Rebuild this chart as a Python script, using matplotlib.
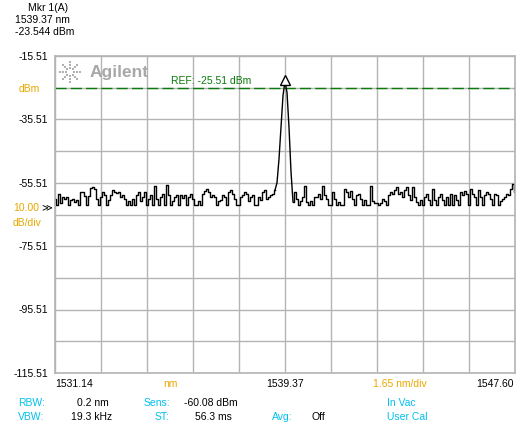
import numpy as np
import matplotlib
matplotlib.use('Agg')
import matplotlib.pyplot as plt

plt.rcParams['font.family'] = ['Liberation Sans', 'DejaVu Sans']

# trace, one value every ~2 px (dBm)
power = [
    -60.6, -62.5, -59.0, -62.0, -60.0, -60.5, -60.0, -62.5, -61.0, -60.5,
    -61.5, -60.8, -62.5, -58.3, -58.5, -59.8, -62.5, -59.8, -57.3, -56.9,
    -57.5, -60.5, -62.5, -60.0, -58.5, -59.3, -62.5, -61.0, -59.5, -57.8,
    -58.3, -58.8, -58.3, -60.0, -59.5, -60.6, -62.5, -61.3, -62.5, -60.6,
    -62.5, -59.5, -58.3, -61.2, -60.0, -58.5, -62.5, -60.6, -59.5, -62.5,
    -56.4, -60.6, -62.5, -60.0, -59.0, -62.5, -56.1, -59.5, -62.5, -61.3,
    -60.0, -59.5, -62.5, -59.3, -60.3, -59.5, -62.5, -60.0, -59.0, -60.6,
    -62.5, -62.5, -61.3, -62.5, -59.0, -58.0, -57.5, -58.5, -60.0, -59.5,
    -60.0, -62.5, -61.3, -60.8, -59.5, -60.0, -62.5, -58.5, -57.8, -59.0,
    -60.6, -62.5, -62.5, -60.0, -59.5, -58.5, -59.0, -61.3, -60.0, -59.3,
    -62.5, -62.5, -60.0, -61.0, -58.5, -57.8, -60.6, -60.0, -59.5, -59.0,
    -57.8, -55.5, -48.0, -38.0, -28.0, -23.5, -27.0, -38.0, -52.0, -61.5,
    -58.5, -60.6, -62.5, -61.3, -60.0, -56.4, -61.5, -62.5, -61.3, -62.5,
    -60.0, -60.0, -59.0, -60.6, -56.6, -59.5, -60.6, -62.5, -62.5, -58.5,
    -60.6, -62.5, -61.5, -62.5, -62.5, -57.5, -58.5, -60.0, -58.0, -60.6,
    -62.5, -59.5, -59.0, -60.5, -62.5, -61.0, -62.5, -62.5, -56.6, -61.2,
    -62.0, -61.8, -62.5, -62.0, -60.6, -61.3, -62.5, -59.3, -58.5, -59.0,
    -57.8, -56.8, -59.0, -58.5, -60.0, -57.8, -56.8, -59.3, -61.0, -56.9,
    -60.0, -61.5, -62.5, -61.0, -62.5, -60.0, -59.0, -61.0, -62.5, -57.6,
    -61.0, -62.5, -60.0, -59.0, -60.8, -62.5, -60.0, -62.5, -59.0, -62.5,
    -59.5, -61.0, -62.5, -58.5, -59.5, -58.0, -59.0, -62.5, -57.6, -59.0,
    -60.0, -62.5, -57.8, -60.0, -62.5, -59.5, -58.5, -59.0, -60.6, -62.5,
    -59.0, -59.5, -62.5, -61.3, -60.6, -60.0, -59.0, -59.5, -57.5, -56.0,
    -58.5,
]
start_nm = 1531.14
stop_nm = 1547.60
center_nm = 1539.37
ref_dbm = -25.51
top_dbm = -15.51
bottom_dbm = -115.51
mkr_nm = 1539.37
mkr_dbm = -23.544
y_labels = ['-15.51', '-35.51', '-55.51', '-75.51', '-95.51', '-115.51']

wl = np.linspace(start_nm, stop_nm, len(power))
noise = np.array(power)

W, H = 520, 427
fig = plt.figure(figsize=(W / 100, H / 100), dpi=100)
ax = fig.add_axes([55 / W, 1 - 374 / H, 460 / W, 317 / H])

grid_c = '#b4b4b4'
orange = '#e8a800'
cyan = '#00c0f0'
green = '#0a7a0a'

ax.set_xlim(start_nm, stop_nm)
ax.set_ylim(bottom_dbm, top_dbm)
ax.set_xticks(np.linspace(start_nm, stop_nm, 11))
ax.set_yticks(np.linspace(bottom_dbm, top_dbm, 11))
ax.tick_params(length=0, labelbottom=False, labelleft=False)
ax.grid(True, color=grid_c, lw=1)
for s in ax.spines.values():
    s.set_color(grid_c)
    s.set_linewidth(1.2)

ax.axhline(ref_dbm, color=green, lw=1, dashes=(8, 3))

# noise floor as steps, the peak itself as a plain line
a, b = 110, 119
ax.plot(wl[:a + 1], noise[:a + 1], color='black', lw=1, drawstyle='steps-mid')
ax.plot(wl[a:b + 1], noise[a:b + 1], color='black', lw=1)
ax.plot(wl[b:], noise[b:], color='black', lw=1, drawstyle='steps-mid')
ax.plot([mkr_nm], [mkr_dbm + 0.4], marker='^', ms=7, mfc='white', mec='black', mew=1)

ax.text(1535.3, ref_dbm + 0.8, 'REF: -25.51 dBm', color=green, fontsize=7.5, va='bottom')

# Agilent logo
lx, ly = 70 / W, 1 - 73 / H
for ang in np.linspace(0, 2 * np.pi, 8, endpoint=False):
    for r in (4, 7, 10):
        fig.patches.append(plt.Rectangle((lx + r * np.cos(ang) / W - 1 / W, ly + r * np.sin(ang) / H - 1 / H),
                                         2 / W, 2 / H, transform=fig.transFigure,
                                         color='#b0b0b0', lw=0))
fig.text(90 / W, 1 - 73 / H, 'Agilent', color='#a8a8a8', fontsize=12.5, fontweight='bold', va='center')

fs = 7.5
def t(x, y, s, c='black', ha='left'):
    fig.text(x / W, 1 - y / H, s, color=c, fontsize=fs, ha=ha, va='center')

# marker readout
t(28, 8, 'Mkr 1(A)')
t(15, 20, '1539.37 nm')
t(15, 32, '-23.544 dBm')

# y labels
for lab, yy in zip(y_labels, [57, 120, 184, 247, 310, 374]):
    t(48, yy, lab, ha='right')
t(40, 89, 'dBm', orange, 'right')
t(13, 208, '10.00', orange)
t(41, 207, '≫')
t(13, 223, 'dB/div', orange)

# x labels
t(55, 384, '1531.14')
t(170, 384, 'nm', orange, 'center')
t(285, 384, '1539.37', ha='center')
t(400, 384, '1.65 nm/div', orange, 'center')
t(514, 384, '1547.60', ha='right')

# settings
t(18, 403, 'RBW:', cyan)
t(77, 403, '0.2 nm')
t(144, 403, 'Sens:', cyan)
t(184, 403, '-60.08 dBm')
t(387, 403, 'In Vac', cyan)
t(18, 417, 'VBW:', cyan)
t(71, 417, '19.3 kHz')
t(155, 417, 'ST:', cyan)
t(195, 417, '56.3 ms')
t(272, 417, 'Avg:', cyan)
t(312, 417, 'Off')
t(387, 417, 'User Cal', cyan)

fig.savefig('out.png', dpi=100, facecolor='white')
